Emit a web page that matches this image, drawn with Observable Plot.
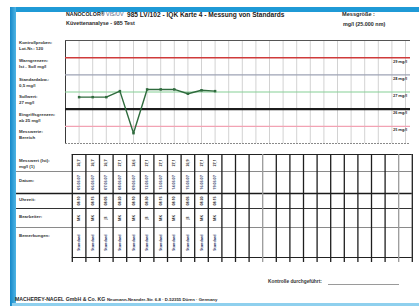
<!DOCTYPE html>
<html><head><meta charset="utf-8">
<script src="https://cdn.jsdelivr.net/npm/d3@7"></script>
<script src="https://cdn.jsdelivr.net/npm/@observablehq/plot@0.6"></script>
<style>
html,body{margin:0;padding:0;background:#fff;}
#page{position:relative;width:419px;height:306px;overflow:hidden;font-family:"Liberation Sans",Arial,sans-serif;color:#222;background:#fff;}
.t{position:absolute;white-space:nowrap;font-weight:bold;line-height:1;transform:translateY(-50%);}
.abs{position:absolute;}
</style></head><body><div id="page"></div>
<script>
// ---- data ----
const measurements = [26.7, 26.7, 26.7, 27.05, 24.6, 27.15, 27.15, 27.15, 26.9, 27.1, 27.05];
const dates = ["05.03.07","06.03.07","07.03.07","08.03.07","09.03.07","12.03.07","13.03.07","14.03.07","15.03.07","16.03.07","19.03.07"];
const times = ["08:10","08:15","08:05","08:20","08:10","08:30","08:15","08:10","08:05","08:20","08:15"];
const operators = ["MK","MK","JS","MK","MK","JS","MK","MK","JS","MK","MK"];
const remarks = ["Standard","Standard","Standard","Standard","Standard","Standard","Standard","Standard","Standard","Standard","Standard"];
const limitValues = [29, 28, 27, 26, 25];
const limitLabels = ["29 mg/l", "28 mg/l", "27 mg/l", "26 mg/l", "25 mg/l"];
const limitNames = ["upper", "warn", "target", "lower", "lowwarn"];
const chartRowLabels = [["Kontrollproben:", "Lot-Nr.: 120"], ["Warngrenzen:", "Ist - Soll mg/l"], ["Standardabw.:", "0,5 mg/l"], ["Sollwert:", "27 mg/l"], ["Eingriffsgrenzen:", "ab 25 mg/l"], ["Messwerte:", "Bereich"]];
const tableRowLabels = [["Messwert (Ist):", "mg/l (1)"], ["Datum:"], ["Uhrzeit:"], ["Bearbeiter:"], ["Bemerkungen:"]];
const columnCount = 25;

// ---- layout / style ----
const colors = {upper: "#cf3b3b", warn: "#9ea3b5", target: "#86cf96", lower: "#1c1c1c", lowwarn: "#f2a3b4"};
const widths = {upper: 1.5, warn: 1.2, target: 1.1, lower: 2.3, lowwarn: 1.3};
const page = d3.select("#page");

function addText(x, y, s, size, opts = {}) {
  return page.append("div").attr("class", "t")
    .style("left", x + "px").style("top", y + "px")
    .style("font-size", size + "px")
    .style("color", opts.color || "#222")
    .style("font-weight", opts.weight || "bold")
    .text(s);
}
function addBox(x, y, w, h, bg) {
  page.append("div").attr("class", "abs")
    .style("left", x + "px").style("top", y + "px")
    .style("width", w + "px").style("height", h + "px")
    .style("background", bg);
}

// blue frame
addBox(10, 7, 409, 5, "#1f9ad6");
addBox(10, 7, 6, 299, "linear-gradient(90deg,#1588c9,#4fb4e4)");
addBox(12, 303, 407, 3, "#8fd0ee");

// header
const brand = addText(66, 15, "NANOCOLOR® ", 5.3, {color: "#1a1a1a"});
brand.append("span").style("font-weight", "normal").style("color", "#4a5a7a").text("VIS/UV");
addText(127, 15, "985 LV/102 - IQK Karte 4 - Messung von Standards", 6.6, {color: "#1a1a1a"});
addText(66, 24, "Küvettenanalyse - 985 Test", 5.4, {color: "#2a2a2a"});
addText(342, 15, "Messgröße :", 5.6, {color: "#2a2a2a"});
addText(343, 25, "mg/l (25.000 nm)", 5.4, {color: "#2a2a2a"});

// left labels of chart
const chartLabelY = [43, 61, 80, 97, 115, 132];
chartRowLabels.forEach((lines, i) => {
  lines.forEach((s, k) => addText(19, chartLabelY[i] + k * 5.5, s, 4.4, {color: "#333"}));
});

// left labels of table
const tableLabelY = [161, 181, 200, 217, 236];
tableRowLabels.forEach((lines, i) => {
  lines.forEach((s, k) => addText(19, tableLabelY[i] + k * 5.5, s, 4.4, {color: "#333"}));
});

// signature + footer
addText(268, 282, "Kontrolle durchgeführt:", 4.8, {color: "#333"});
addBox(328, 284, 71, 0.8, "#9a9a9a");
addText(15, 300, "MACHEREY-NAGEL GmbH & Co. KG", 5.2, {color: "#2a2a2a"});
addText(107, 300, "Neumann-Neander-Str. 6-8 · D-52355 Düren · Germany", 4.3, {color: "#2a2a2a"});

// ---- control chart ----
const pxPerCol = 13.6, x0 = 65;
const xDomain = [-x0 / pxPerCol, (419 - x0) / pxPerCol];
const gridCols = d3.range(0, columnCount + 1);
const points = measurements.map((v, i) => ({col: i + 1, v}));
const limits = limitValues.map((v, i) => ({v, label: limitLabels[i], name: limitNames[i]}));
const rightEdge = (410 - x0) / pxPerCol;

const chart = Plot.plot({
  width: 419, height: 113,
  marginTop: 5, marginBottom: 5, marginLeft: 0, marginRight: 0,
  x: {domain: xDomain, axis: null},
  y: {domain: [24, 30], axis: null},
  style: {background: "transparent"},
  marks: [
    Plot.ruleX(gridCols, {x: d => d, y1: 24, y2: 30, stroke: "#c6c6c6", strokeWidth: 0.8}),
    Plot.ruleX([0], {y1: 24, y2: 30, stroke: "#3a3a3a", strokeWidth: 1}),
    Plot.ruleY([30], {x1: 0, x2: rightEdge, stroke: "#555", strokeWidth: 1}),
    Plot.ruleY([24], {x1: 0, x2: rightEdge, stroke: "#8a8a8a", strokeWidth: 1, strokeDasharray: "2,1"}),
    ...limits.map(l => Plot.ruleY([l.v], {x1: 0, x2: rightEdge, stroke: colors[l.name], strokeWidth: widths[l.name]})),
    Plot.text(limits, {x: 24.6, y: "v", text: "label", dy: 3.8, fontSize: 3.8, fontWeight: "bold", fill: "#333"}),
    Plot.line(points, {x: "col", y: "v", stroke: "#2f6b3d", strokeWidth: 1.4}),
    Plot.dot(points, {x: "col", y: "v", symbol: "square", r: 1.4, fill: "#2f6b3d", stroke: null})
  ]
});
d3.select(chart).style("position", "absolute").style("left", "0px").style("top", "35px");
page.node().appendChild(chart);

// ---- table ----
const rowHeights = [17, 22, 15, 19, 30];
const tableTop = 4;
const rowEdges = rowHeights.reduce((a, h) => (a.push(a[a.length - 1] + h), a), [tableTop]);
const rowMid = rowHeights.map((h, i) => rowEdges[i] + h / 2);
const tableBottom = rowEdges[rowEdges.length - 1];
const vLines = d3.range(0, columnCount + 1).map(i => ({u: i + 0.5, light: i === 14 || i === 24}));
const hLines = [
  {y: rowEdges[0], from: 0.5, stroke: "#222", w: 1.2},
  {y: rowEdges[1], from: -3.6, stroke: "#8a8a8a", w: 1},
  {y: rowEdges[2], from: -3.6, stroke: "#1a1a1a", w: 1.6},
  {y: rowEdges[3], from: -3.6, stroke: "#333", w: 1.1},
  {y: rowEdges[4], from: -3.6, stroke: "#8a8a8a", w: 1},
  {y: rowEdges[5], from: 0.5, stroke: "#222", w: 1.2}
];
const cells = [];
measurements.forEach((v, i) => {
  cells.push({col: i + 1, row: 0, text: v.toFixed(1).replace(".", ",")});
  cells.push({col: i + 1, row: 1, text: dates[i]});
  cells.push({col: i + 1, row: 2, text: times[i]});
  cells.push({col: i + 1, row: 3, text: operators[i]});
  cells.push({col: i + 1, row: 4, text: remarks[i]});
});
const cellColor = ["#333", "#3b4a70", "#333", "#333", "#34406a"];

const table = Plot.plot({
  width: 419, height: 116,
  marginTop: 0, marginBottom: 0, marginLeft: 0, marginRight: 0,
  x: {domain: xDomain, axis: null},
  y: {domain: [0, 116], range: [0, 116], axis: null},
  style: {background: "transparent"},
  marks: [
    Plot.ruleY(hLines, {y: "y", x1: "from", x2: columnCount + 0.5, stroke: "stroke", strokeWidth: "w"}),
    Plot.ruleX(vLines, {x: "u", y1: tableTop, y2: tableBottom + 5, stroke: d => d.light ? "#9a9a9a" : "#1e1e1e", strokeWidth: 1.3}),
    Plot.text(cells, {x: "col", y: d => rowMid[d.row], text: "text", rotate: -90, fontSize: 3.6, fontWeight: "bold", fill: d => cellColor[d.row]})
  ]
});
d3.select(table).style("position", "absolute").style("left", "0px").style("top", "150px");
page.node().appendChild(table);
</script>
</body></html>
